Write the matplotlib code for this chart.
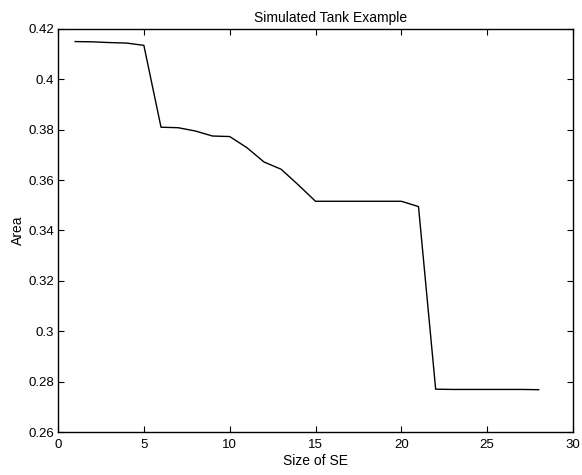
import matplotlib.pyplot as plt

plt.rcParams['font.family'] = ['Liberation Sans', 'DejaVu Sans']

se_size = [1, 2, 3, 4, 5, 6, 7, 8, 9, 10, 11, 12, 13, 14, 15, 16, 17, 18, 19, 20, 21, 22, 23, 24, 25, 26, 27, 28]
area = [0.4150, 0.4149, 0.4146, 0.4144, 0.4135, 0.3810, 0.3808, 0.3795, 0.3775, 0.3773, 0.3729, 0.3672, 0.3643,
        0.3581, 0.3516, 0.3516, 0.3516, 0.3516, 0.3516, 0.3516, 0.3495, 0.2770, 0.2769, 0.2769, 0.2769, 0.2769,
        0.2769, 0.2768]

xticks = [0, 5, 10, 15, 20, 25, 30]
yticks = [0.26, 0.28, 0.3, 0.32, 0.34, 0.36, 0.38, 0.4, 0.42]
ytick_labels = ['0.26', '0.28', '0.3', '0.32', '0.34', '0.36', '0.38', '0.4', '0.42']

fig = plt.figure(figsize=(5.82, 4.75), dpi=100)
ax = fig.add_axes([0.0997, 0.0905, 0.8848, 0.8485])

ax.plot(se_size, area, color='black', linewidth=1.0)

ax.set_xlim(0, 30)
ax.set_ylim(0.26, 0.42)
ax.set_xticks(xticks)
ax.set_yticks(yticks)
ax.set_yticklabels(ytick_labels)
ax.tick_params(direction='in', top=True, right=True, length=4, labelsize=9.5, width=0.8)
ax.tick_params(axis='x', pad=5)
ax.tick_params(axis='y', pad=3)
for s in ax.spines.values():
    s.set_linewidth(1.0)

ax.set_title('Simulated Tank Example', fontsize=10, x=0.53, pad=5)
ax.set_xlabel('Size of SE', fontsize=10, labelpad=2)
ax.set_ylabel('Area', fontsize=10, labelpad=2)

fig.savefig('out.png', dpi=100)
